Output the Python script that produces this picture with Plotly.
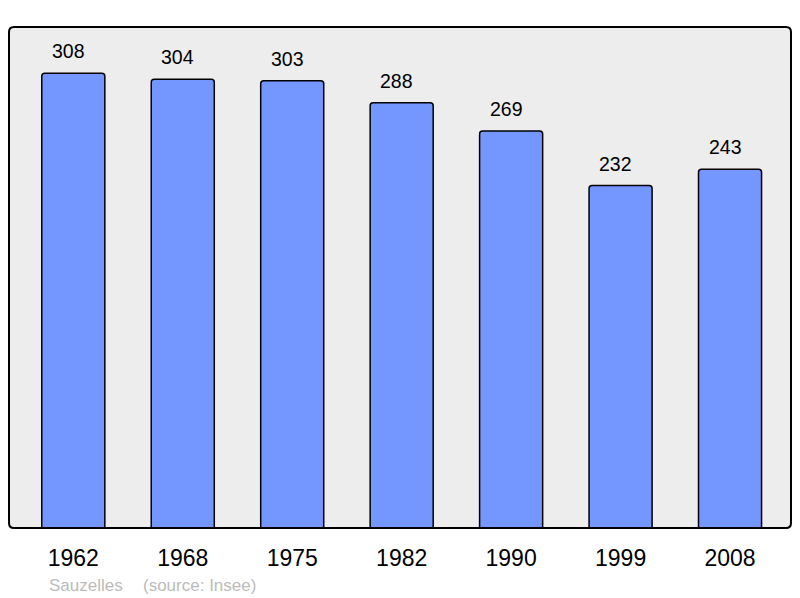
import plotly.graph_objects as go

years = ["1962", "1968", "1975", "1982", "1990", "1999", "2008"]
population = [308, 304, 303, 288, 269, 232, 243]
commune = "Sauzelles"
source = "(source: Insee)"

W, H = 800, 598
L, R, T, B = 9, 9, 27, 70
pw, ph = W - L - R, H - T - B
FONT = "Liberation Sans, Arial, sans-serif"

fig = go.Figure()
fig.add_trace(go.Bar(
    x=list(range(len(years))), y=population, width=0.576,
    marker=dict(color="#7396ff", line=dict(color="#000000", width=1.5), cornerradius=3),
    hovertext=years, hoverinfo="text+y",
))

for i, v in enumerate(population):
    fig.add_annotation(x=i, y=v, text=str(v), showarrow=False, yanchor="bottom",
                       yshift=9, xshift=-5, font=dict(family=FONT, size=19.5, color="#000000"))

fig.add_annotation(xref="paper", yref="paper", x=(49 - L) / pw, y=-(585 - (H - B)) / ph,
                   xanchor="left", yanchor="middle", text=commune, showarrow=False, xshift=-2,
                   font=dict(family=FONT, size=17, color="#bbbbbb"))
fig.add_annotation(xref="paper", yref="paper", x=(143 - L) / pw, y=-(585 - (H - B)) / ph,
                   xanchor="left", yanchor="middle", text=source, showarrow=False, xshift=-2,
                   font=dict(family=FONT, size=17, color="#bbbbbb"))

rx, ry = 5 / pw, 5 / ph
path = (f"M {rx},0 L {1-rx},0 Q 1,0 1,{ry} L 1,{1-ry} Q 1,1 {1-rx},1 "
        f"L {rx},1 Q 0,1 0,{1-ry} L 0,{ry} Q 0,0 {rx},0 Z")
fig.add_shape(type="path", xref="paper", yref="paper", path=path,
              line=dict(color="#000000", width=2), layer="above")

fig.update_layout(
    width=W, height=H,
    margin=dict(l=L, r=R, t=T, b=B),
    paper_bgcolor="#ffffff", plot_bgcolor="#ededed",
    showlegend=False,
    xaxis=dict(range=[-0.5875, 6.557], showgrid=False, zeroline=False,
               showline=False, ticks="", ticklabelstandoff=14,
               tickmode="array", tickvals=list(range(len(years))), ticktext=years,
               tickfont=dict(family=FONT, size=23, color="#000000")),
    yaxis=dict(range=[0, 339.4], showgrid=False, zeroline=False, showline=False,
               showticklabels=False, ticks=""),
)

fig.write_html("out.html", config={"displayModeBar": False},
               post_script="document.body.style.margin='0';")
